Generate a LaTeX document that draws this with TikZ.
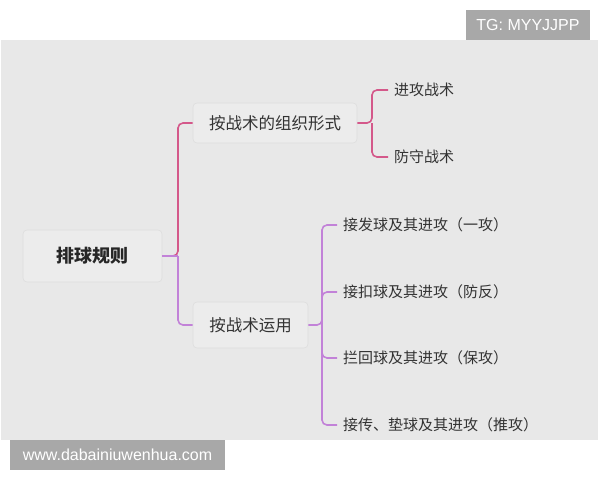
\documentclass[tikz,border=0pt]{standalone}
\usepackage{fontspec}
\setmainfont{Liberation Sans}
\newfontfamily\cjk{Noto Sans CJK SC}
\definecolor{panel}{HTML}{E8E8E8}
\definecolor{boxfill}{HTML}{ECECEC}
\definecolor{boxline}{HTML}{DDDDDD}
\definecolor{tagfill}{HTML}{A8A8A8}
\definecolor{txt}{HTML}{333333}
\definecolor{pinkline}{HTML}{D4588A}
\definecolor{purpline}{HTML}{C282D8}
\begin{document}
\begin{tikzpicture}[x=1pt,y=-1pt,
  tag/.style={fill=tagfill,text=white,inner sep=0pt,font=\fontsize{16}{18}\selectfont},
  topicbox/.style={fill=boxfill,draw=boxline,line width=0.6pt,rounded corners=4pt,text=txt,inner sep=0pt,font=\cjk\fontsize{16.5}{19}\selectfont},
  leaf/.style={anchor=west,inner xsep=6pt,inner ysep=2pt,text=txt,font=\cjk\fontsize{15}{18}\selectfont},
  pinkc/.style={draw=pinkline,line width=1.6pt,rounded corners=5pt},
  purpc/.style={draw=purpline,line width=1.6pt,rounded corners=5pt}]
\useasboundingbox (0,0) rectangle (600,480);
\fill[white] (0,0) rectangle (600,480);
\fill[panel] (1,40) rectangle (598,440);
\node[tag,minimum width=124pt,minimum height=30pt] (tg) at (528,25) {TG: MYYJJPP};
\node[tag,minimum width=215pt,minimum height=30pt] (www) at (117.5,455) {www.dabainiuwenhua.com};
\node[topicbox,minimum width=139pt,minimum height=52pt,font=\cjk\bfseries\fontsize{18}{20}\selectfont,text=black!85] (root) at (92.5,256) {排球规则};
\node[topicbox,minimum width=164pt,minimum height=40pt] (n1) at (275,123) {按战术的组织形式};
\node[topicbox,minimum width=115pt,minimum height=46pt] (n2) at (250.5,325) {按战术运用};
\node[leaf] (a1) at (388,90) {进攻战术};
\node[leaf] (a2) at (388,157) {防守战术};
\node[leaf] (b1) at (337,225) {接发球及其进攻（一攻）};
\node[leaf] (b2) at (337,292) {接扣球及其进攻（防反）};
\node[leaf] (b3) at (337,358) {拦回球及其进攻（保攻）};
\node[leaf] (b4) at (337,425) {接传、垫球及其进攻（推攻）};
\coordinate (j0) at (178,256);
\coordinate (j1) at (372,123);
\coordinate (j2) at (322,325);
\draw[pinkc] (root.east) -- (j0) |- (n1.west);
\draw[purpc] (j0) |- (n2.west);
\draw[purpc,rounded corners=0pt] (root.east) -- (j0);
\draw[pinkc] (n1.east) -- (j1) |- (a1.west);
\draw[pinkc] (j1) |- (a2.west);
\draw[purpc] (n2.east) -- (j2) |- (b1.west);
\draw[purpc] (j2) |- (b2.west);
\draw[purpc] (j2) |- (b3.west);
\draw[purpc] (j2) |- (b4.west);
\end{tikzpicture}
\end{document}
